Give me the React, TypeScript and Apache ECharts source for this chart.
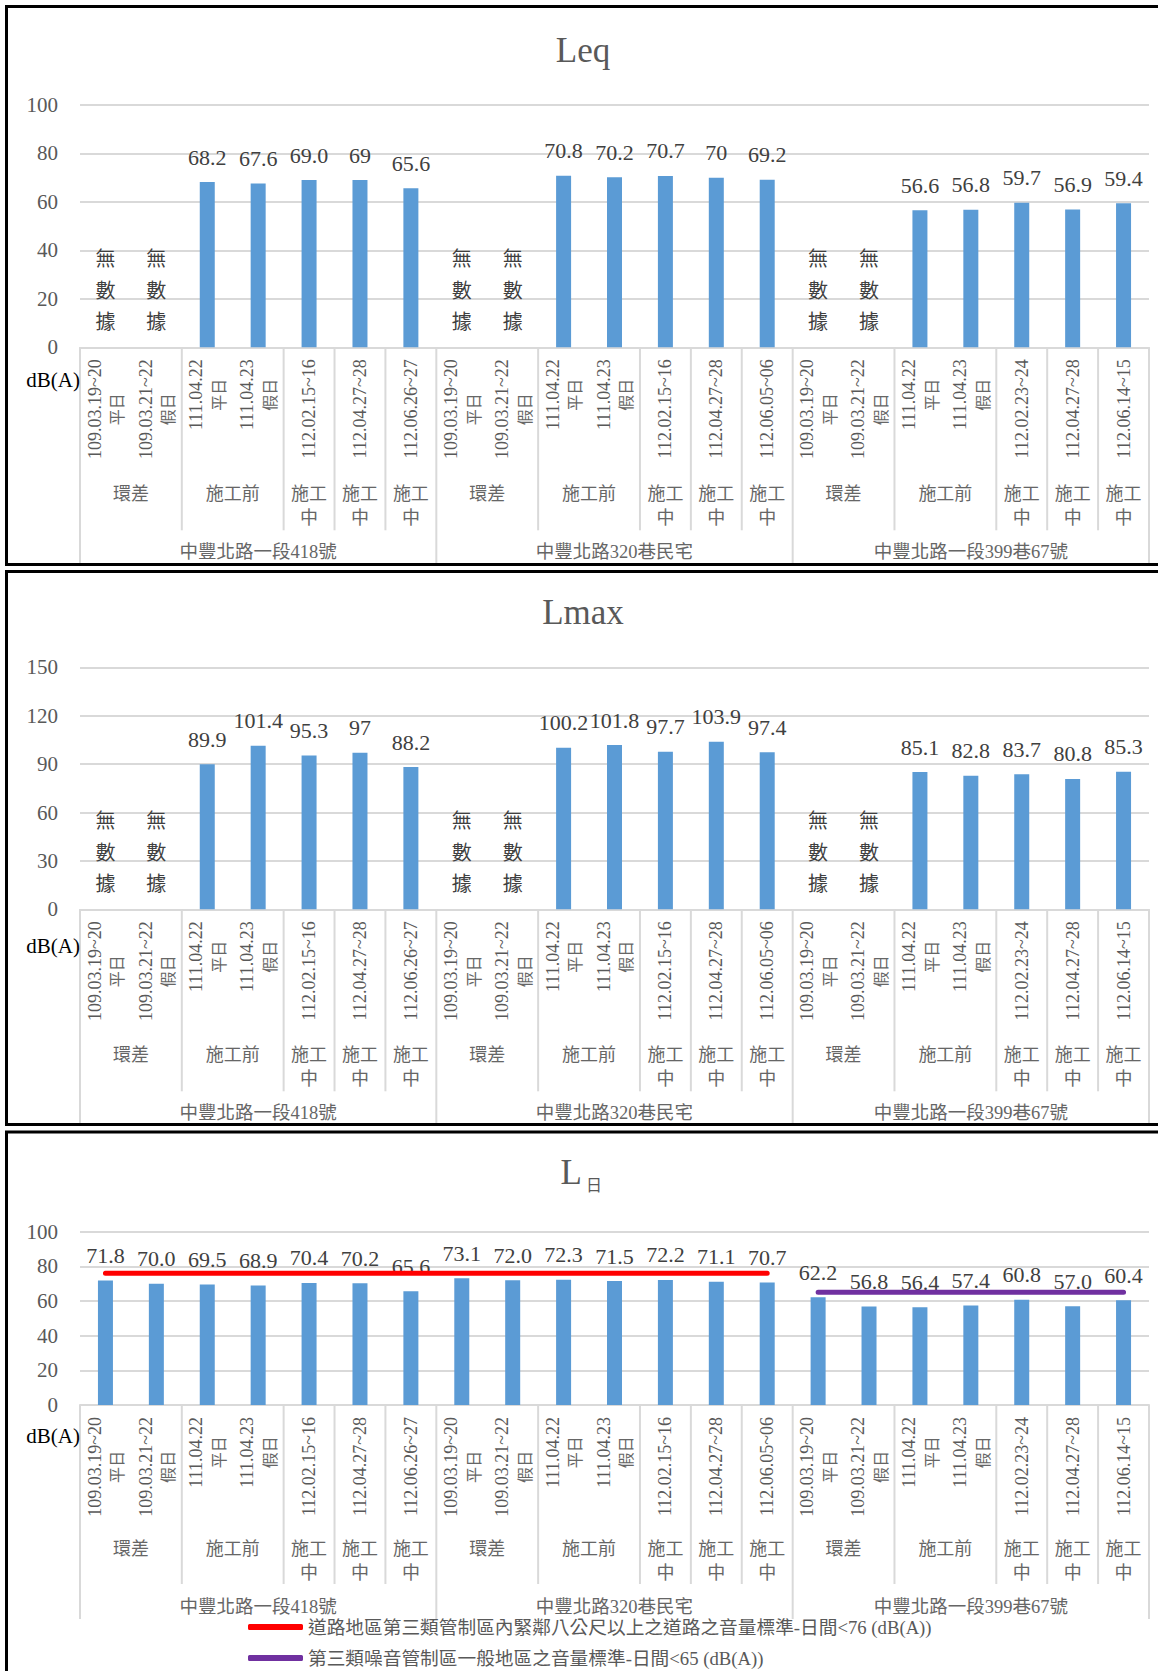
import React, { useEffect, useRef } from "react";
import * as echarts from "echarts";

const SERIF = "'Liberation Serif', 'Times New Roman', serif";
const CJK = "'Noto Sans CJK TC', sans-serif";
const MIXED = "'Liberation Serif', 'Noto Sans CJK TC', serif";

const locations = ["中豐北路一段418號", "中豐北路320巷民宅", "中豐北路一段399巷67號"];
const locStart = [0, 7, 14];
const locEnd = [6, 13, 20];

const dateLabels = [
  "109.03.19~20", "109.03.21~22", "111.04.22", "111.04.23", "112.02.15~16", "112.04.27~28", "112.06.26~27",
  "109.03.19~20", "109.03.21~22", "111.04.22", "111.04.23", "112.02.15~16", "112.04.27~28", "112.06.05~06",
  "109.03.19~20", "109.03.21~22", "111.04.22", "111.04.23", "112.02.23~24", "112.04.27~28", "112.06.14~15",
];
const dayTypes = [
  "平日", "假日", "平日", "假日", "", "", "",
  "平日", "假日", "平日", "假日", "", "", "",
  "平日", "假日", "平日", "假日", "", "", "",
];

const phaseNames = [
  "環差", "施工前", "施工中", "施工中", "施工中",
  "環差", "施工前", "施工中", "施工中", "施工中",
  "環差", "施工前", "施工中", "施工中", "施工中",
];
const phaseStart = [0, 2, 4, 5, 6, 7, 9, 11, 12, 13, 14, 16, 18, 19, 20];
const phaseEnd = [1, 3, 4, 5, 6, 8, 10, 11, 12, 13, 15, 17, 18, 19, 20];

const noDataCats = [0, 1, 7, 8, 14, 15];
const noDataText = "無數據";

const leqText = [
  "", "", "68.2", "67.6", "69.0", "69", "65.6",
  "", "", "70.8", "70.2", "70.7", "70", "69.2",
  "", "", "56.6", "56.8", "59.7", "56.9", "59.4",
];
const lmaxText = [
  "", "", "89.9", "101.4", "95.3", "97", "88.2",
  "", "", "100.2", "101.8", "97.7", "103.9", "97.4",
  "", "", "85.1", "82.8", "83.7", "80.8", "85.3",
];
const ldayText = [
  "71.8", "70.0", "69.5", "68.9", "70.4", "70.2", "65.6",
  "73.1", "72.0", "72.3", "71.5", "72.2", "71.1", "70.7",
  "62.2", "56.8", "56.4", "57.4", "60.8", "57.0", "60.4",
];

const std76Name = "道路地區第三類管制區內緊鄰八公尺以上之道路之音量標準-日間<76 (dB(A))";
const std65Name = "第三類噪音管制區一般地區之音量標準-日間<65 (dB(A))";
const std76 = [76, 76, 76, 76, 76, 76, 76, 76, 76, 76, 76, 76, 76, 76, null, null, null, null, null, null, null];
const std65 = [null, null, null, null, null, null, null, null, null, null, null, null, null, null, 65, 65, 65, 65, 65, 65, 65];

type Lay = { phase: number; loc: number; sep2: number; sep3: number; unit: number };
type Panel = { top: number; height: number; max: number; interval: number; texts: string[]; noData: boolean; lay: Lay };

const panels: Panel[] = [
  { top: 105, height: 242.3, max: 100, interval: 20, texts: leqText, noData: true, lay: { phase: 145, loc: 205, sep2: 183, sep3: 217, unit: 33 } },
  { top: 667.3, height: 242, max: 150, interval: 30, texts: lmaxText, noData: true, lay: { phase: 144, loc: 204, sep2: 182, sep3: 215, unit: 37 } },
  { top: 1231.7, height: 173.3, max: 100, interval: 20, texts: ldayText, noData: false, lay: { phase: 142, loc: 202, sep2: 179, sep3: 214, unit: 31 } },
];

type Item = { kind: string; s: number; e: number; text: string };

function buildItems(p: Panel): Item[] {
  const items: Item[] = [];
  phaseNames.forEach((n, i) => {
    const span = phaseEnd[i] - phaseStart[i] + 1;
    const text = span === 1 && n.length > 2 ? n.slice(0, 2) + "\n" + n.slice(2) : n;
    items.push({ kind: "phase", s: phaseStart[i], e: phaseEnd[i], text });
  });
  locations.forEach((n, i) => items.push({ kind: "loc", s: locStart[i], e: locEnd[i], text: n }));
  items.push({ kind: "unit", s: 0, e: 0, text: "dB(A)" });
  if (p.noData) noDataCats.forEach((c) => items.push({ kind: "nodata", s: c, e: c, text: noDataText.split("").join("\n") }));
  return items;
}

const SEP = "#d9d9d9";

function customSeries(k: number, p: Panel) {
  const items = buildItems(p);
  const lay = p.lay;
  return {
    type: "custom",
    xAxisIndex: k,
    yAxisIndex: k,
    silent: true,
    clip: false,
    z: 1,
    data: items.map((it) => [it.s, 0]),
    renderItem: (params: any, api: any) => {
      const it = items[params.dataIndex];
      const bw = api.size([1, 0])[0];
      const a = api.coord([it.s, 0]);
      const b = api.coord([it.e, 0]);
      const left = a[0] - bw / 2;
      const right = b[0] + bw / 2;
      const ay = a[1];
      const cx = (left + right) / 2;
      const children: any[] = [];
      const line = (x: number, len: number) => ({
        type: "line",
        shape: { x1: x, y1: ay, x2: x, y2: ay + len },
        style: { stroke: SEP, lineWidth: 2 },
      });
      if (it.kind === "phase") {
        if (locEnd.indexOf(it.e) < 0) children.push(line(right, lay.sep2));
        children.push({
          type: "text",
          style: { text: it.text, x: cx, y: ay + lay.phase - 12, align: "center", verticalAlign: "top", fontSize: 18, fontFamily: CJK, fill: "#666666", lineHeight: 24 },
        });
      } else if (it.kind === "loc") {
        children.push(line(right, lay.sep3));
        if (it.s === 0) children.push(line(left, lay.sep3));
        children.push({
          type: "text",
          style: { text: it.text, x: cx, y: ay + lay.loc, align: "center", verticalAlign: "middle", fontSize: 18.5, fontFamily: MIXED, fill: "#666666" },
        });
      } else if (it.kind === "unit") {
        children.push({
          type: "text",
          style: { text: it.text, x: left, y: ay + lay.unit, align: "right", verticalAlign: "middle", fontSize: 21, fontFamily: SERIF, fill: "#000000" },
        });
      } else if (it.kind === "nodata") {
        children.push({
          type: "text",
          style: { text: it.text, x: cx, y: ay - 58, align: "center", verticalAlign: "middle", fontSize: 20, fontFamily: CJK, fill: "#404040", lineHeight: 31.5 },
        });
      }
      return { type: "group", children };
    },
  };
}

function buildOption() {
  const grid: any[] = [];
  const xAxis: any[] = [];
  const yAxis: any[] = [];
  const series: any[] = [];
  panels.forEach((p, k) => {
    grid.push({ left: 80, right: 9, top: p.top, height: p.height, containLabel: false });
    xAxis.push({
      gridIndex: k,
      type: "category",
      data: dateLabels,
      axisLine: { lineStyle: { color: SEP, width: 2 } },
      axisTick: { show: false },
      axisLabel: {
        interval: 0,
        rotate: 90,
        margin: 12,
        formatter: (v: string, i: number) => (dayTypes[i] ? `{d|${v}}\n{w|${dayTypes[i]}}` : `{d|${v}}`),
        rich: {
          d: { fontSize: 18, fontFamily: SERIF, color: "#595959", lineHeight: 21.7 },
          w: { fontSize: 16, fontFamily: CJK, color: "#666666", lineHeight: 21.7, align: "center" },
        },
      },
    });
    yAxis.push({
      gridIndex: k,
      type: "value",
      min: 0,
      max: p.max,
      interval: p.interval,
      axisLine: { show: false },
      axisTick: { show: false },
      axisLabel: { fontSize: 21, fontFamily: SERIF, color: "#595959", margin: 22 },
      splitLine: { lineStyle: { color: SEP, width: 2 } },
    });
    series.push({
      type: "bar",
      name: "bar" + k,
      xAxisIndex: k,
      yAxisIndex: k,
      barWidth: 15,
      z: 2,
      data: p.texts.map((s) => (s === "" ? null : Number(s))),
      itemStyle: { color: "#5b9bd5" },
      label: {
        show: true,
        position: "top",
        distance: 14,
        fontSize: 22,
        fontFamily: SERIF,
        color: "#404040",
        formatter: (prm: any) => p.texts[prm.dataIndex],
      },
    });
    series.push(customSeries(k, p));
  });
  series.push({
    type: "line",
    name: std76Name,
    xAxisIndex: 2,
    yAxisIndex: 2,
    z: 5,
    data: std76,
    showSymbol: false,
    symbol: "none",
    color: "#ff0000",
    itemStyle: { color: "#ff0000" },
    lineStyle: { color: "#ff0000", width: 5, cap: "round" },
    silent: true,
  });
  series.push({
    type: "line",
    name: std65Name,
    xAxisIndex: 2,
    yAxisIndex: 2,
    z: 5,
    data: std65,
    showSymbol: false,
    symbol: "none",
    color: "#7030a0",
    itemStyle: { color: "#7030a0" },
    lineStyle: { color: "#7030a0", width: 5, cap: "round" },
    silent: true,
  });

  const border = (y: number, h: number) => ({
    type: "rect",
    silent: true,
    shape: { x: 6.5, y, width: 1300, height: h },
    style: { fill: "none", stroke: "#000000", lineWidth: 3 },
    z: 100,
  });
  const title = (text: string, x: number, y: number, align: string, fontSize: number, fontFamily: string) => ({
    type: "text",
    silent: true,
    x,
    y,
    style: { text, align, verticalAlign: "middle", fontSize, fontFamily, fill: "#595959" },
  });

  return {
    animation: false,
    backgroundColor: "#ffffff",
    textStyle: { fontFamily: SERIF },
    grid,
    xAxis,
    yAxis,
    series,
    legend: {
      data: [std76Name, std65Name],
      orient: "vertical",
      left: 248,
      top: 1617,
      padding: 0,
      itemWidth: 55,
      itemHeight: 6,
      itemGap: 11,
      icon: "roundRect",
      selectedMode: false,
      textStyle: { fontFamily: MIXED, fontSize: 18.7, color: "#595959", lineHeight: 20 },
    },
    graphic: [
      border(6.5, 558),
      border(571.5, 553),
      border(1132, 700),
      title("Leq", 583, 50, "center", 35, SERIF),
      title("Lmax", 583, 612.5, "center", 35, SERIF),
      title("L", 582, 1172, "right", 35, SERIF),
      title("日", 586, 1184, "left", 16, CJK),
    ],
  };
}

export default function App() {
  const ref = useRef<HTMLDivElement>(null);
  useEffect(() => {
    if (!ref.current) return;
    const chart = echarts.init(ref.current, null, { renderer: "svg" });
    chart.setOption(buildOption() as any);
    return () => chart.dispose();
  }, []);
  return (
    <div
      ref={ref}
      style={{ position: "absolute", left: 0, top: 0, width: 1158, height: 1671, background: "#ffffff" }}
    />
  );
}
